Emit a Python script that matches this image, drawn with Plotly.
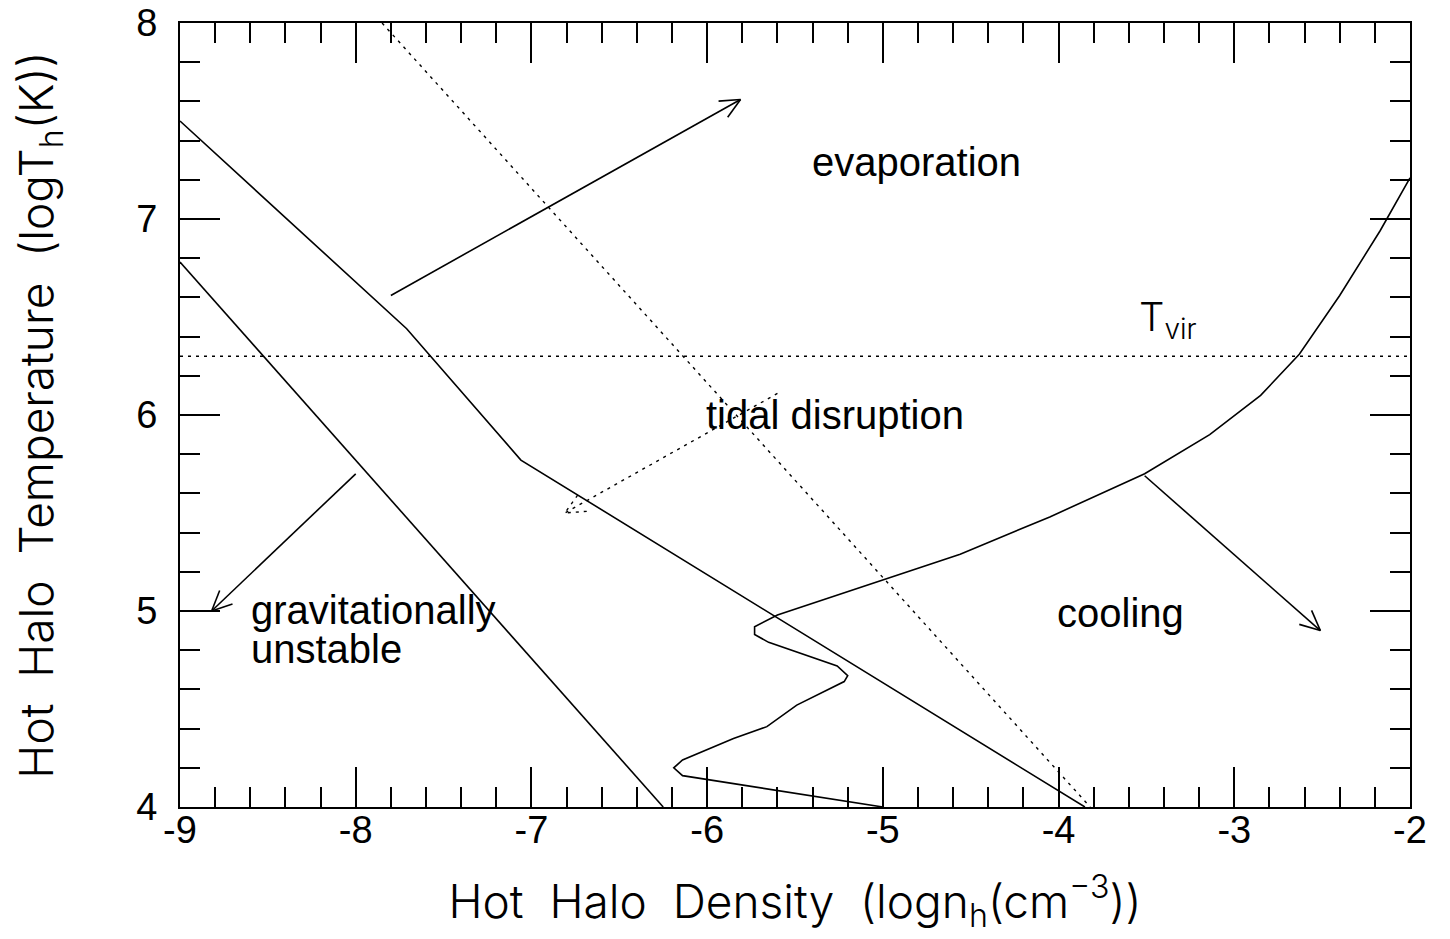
import numpy as np
import plotly.graph_objects as go

# ---- data ----
upper_x = [-9.0, -7.71, -7.06, -3.85]
upper_y = [7.50, 6.44, 5.77, 4.00]
lower_x = [-9.0, -6.25]
lower_y = [6.78, 4.00]
tidal_x = [-7.85, -3.82]
tidal_y = [8.00, 4.00]
tvir_y = 6.3
cool_x = [-5.00, -6.14, -6.19, -6.14, -5.85, -5.66, -5.49, -5.22, -5.20, -5.26,
          -5.65, -5.73, -5.73, -5.60, -4.56, -4.05, -3.51, -3.14, -2.85, -2.63,
          -2.40, -2.17, -2.00]
cool_y = [4.00, 4.16, 4.20, 4.24, 4.35, 4.41, 4.52, 4.64, 4.67, 4.72,
          4.84, 4.88, 4.92, 4.98, 5.29, 5.48, 5.70, 5.90, 6.10, 6.31,
          6.61, 6.94, 7.21]

# arrows: (tail_x, tail_y, head_x, head_y, dotted)
arrows = [
    (-7.80, 6.61, -5.81, 7.61, False),   # evaporation
    (-8.00, 5.70, -8.82, 5.00, False),   # gravitationally unstable
    (-3.51, 5.69, -2.51, 4.90, False),   # cooling
    (-5.60, 6.11, -6.81, 5.50, True),    # tidal disruption
]

labels = [
    ("evaporation", -4.81, 7.29, "center"),
    ("tidal disruption", -5.27, 6.00, "center"),
    ("gravitationally", -8.61, 5.005, "left"),
    ("unstable", -8.61, 4.805, "left"),
    ("cooling", -3.65, 4.99, "center"),
]

x_tickvals = [-9, -8, -7, -6, -5, -4, -3, -2]
x_ticktext = ["-9", "-8", "-7", "-6", "-5", "-4", "-3", "-2"]
y_tickvals = [4, 5, 6, 7, 8]
y_ticktext = ["4", "5", "6", "7", "8"]

xrange_ = [-9, -2]
yrange_ = [4, 8]

W, H = 1450, 939
ML, MR, MT, MB = 172, 48, 15, 140
sx = (W - ML - MR) / (xrange_[1] - xrange_[0])
sy = (H - MT - MB) / (yrange_[1] - yrange_[0])

fig = go.Figure()
solid = dict(color="black", width=1.6)
dotted = dict(color="black", width=1.4, dash="3px,5px")

fig.add_trace(go.Scatter(x=upper_x, y=upper_y, mode="lines", line=solid))
fig.add_trace(go.Scatter(x=lower_x, y=lower_y, mode="lines", line=solid))
fig.add_trace(go.Scatter(x=cool_x, y=cool_y, mode="lines", line=solid))
fig.add_trace(go.Scatter(x=tidal_x, y=tidal_y, mode="lines", line=dotted))
fig.add_trace(go.Scatter(x=xrange_, y=[tvir_y, tvir_y], mode="lines", line=dotted))

# arrows drawn with open heads
head_len = 22.0
half_ang = np.deg2rad(25)
for tx, ty, hx, hy, dot in arrows:
    st = dotted if dot else solid
    dx = (tx - hx) * sx
    dy = (ty - hy) * sy
    n = np.hypot(dx, dy)
    ux, uy = dx / n, dy / n
    xs = [tx, hx, None]
    ys = [ty, hy, None]
    for s in (1, -1):
        c, si = np.cos(s * half_ang), np.sin(s * half_ang)
        rx = ux * c - uy * si
        ry = ux * si + uy * c
        xs += [hx + rx * head_len / sx, hx, None]
        ys += [hy + ry * head_len / sy, hy, None]
    fig.add_trace(go.Scatter(x=xs, y=ys, mode="lines", line=st))

for txt, x, y, al in labels:
    fig.add_annotation(x=x, y=y, text=txt, showarrow=False,
                       xanchor=al, yanchor="middle",
                       font=dict(family="Liberation Sans, Arial", size=40, color="black"))

fig.add_annotation(x=-3.38, y=6.49, text="T<sub>vir</sub>", showarrow=False,
                   xanchor="center", yanchor="middle",
                   font=dict(family="Inter, Liberation Sans", size=40, color="black", weight=300))

axis_common = dict(
    showgrid=False, zeroline=False, showline=True, linecolor="black", linewidth=2,
    mirror="allticks", ticks="inside", ticklen=40, tickwidth=1.5, tickcolor="black",
    automargin=False, ticklabeloverflow="allow",
    tickfont=dict(family="Liberation Sans, Arial", size=38, color="black"),
    minor=dict(ticks="inside", ticklen=20, tickwidth=1.5, tickcolor="black", dtick=0.2),
)

title_font = dict(family="Inter, Liberation Sans", size=46, color="black", weight=300)

fig.update_xaxes(range=xrange_, tickvals=x_tickvals, ticktext=x_ticktext,
                 ticklabelstandoff=-12,
                 title=dict(text="Hot  Halo  Density  (logn<sub>h</sub>(cm<sup>−3</sup>))",
                            font=title_font, standoff=36),
                 **axis_common)
fig.update_yaxes(range=yrange_, tickvals=y_tickvals, ticktext=y_ticktext,
                 ticklabelstandoff=13,
                 title=dict(text="Hot  Halo  Temperature  (logT<sub>h</sub>(K))",
                            font=title_font, standoff=75),
                 **axis_common)

fig.update_layout(width=W, height=H, margin=dict(l=ML, r=MR, t=MT, b=MB),
                  plot_bgcolor="white", paper_bgcolor="white", showlegend=False)

fig.write_html("out.html")
